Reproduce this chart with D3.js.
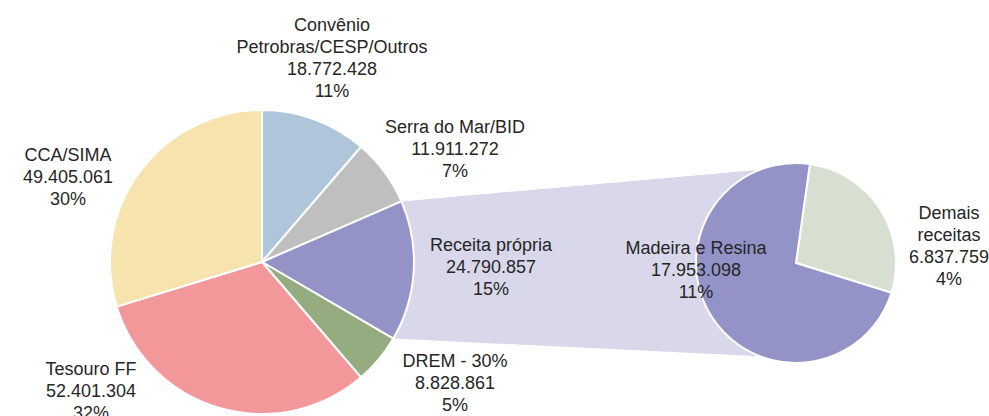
<!DOCTYPE html>
<html><head><meta charset="utf-8">
<script src="https://cdn.jsdelivr.net/npm/d3@7"></script>
<style>
html,body{margin:0;padding:0;background:#fff;}
svg{display:block;}
text{font-family:"Liberation Sans",Arial,sans-serif;font-size:18px;fill:#262626;}
</style></head>
<body>
<svg id="chart" width="989" height="416"></svg>
<script>
// ---- data ----
const mainCategories = ["Convênio\nPetrobras/CESP/Outros", "Serra do Mar/BID", "Receita própria", "DREM - 30%", "Tesouro FF", "CCA/SIMA"];
const mainValues = [18772428, 11911272, 24790857, 8828861, 52401304, 49405061];
const mainPercentLabels = ["11%", "7%", "15%", "5%", "32%", "30%"];
const subCategories = ["Demais\nreceitas", "Madeira e Resina"];
const subValues = [6837759, 17953098];
const subPercentLabels = ["4%", "11%"];

// ---- styles / layout ----
const mainColors = ["#AFC5D9", "#BFBFBF", "#9393C8", "#95AB80", "#F2989B", "#F6E3AD"];
const subColors = ["#D6DFD0", "#9393C8"];
const bandColor = "#D8D8EA";
const mainC = {x: 262, y: 262, r: 152};
const subC = {x: 796, y: 263, r: 100};
const mainLabelPos = [[332, 25], [455, 127], [491, 245], [455, 361], [91, 369], [68, 155]];
const subLabelPos = [[949, 213], [696, 248]];
const lineH = 21.8;

const fmt = v => d3.format(",")(v).replace(/,/g, ".");
const svg = d3.select("#chart");

const mainPie = d3.pie().sort(null).value(d => d).startAngle(0).endAngle(2 * Math.PI);
const mainArcs = mainPie(mainValues);
const subStart = 8 * Math.PI / 180;
const subPie = d3.pie().sort(null).value(d => d).startAngle(subStart).endAngle(subStart + 2 * Math.PI);
const subArcs = subPie(subValues);

const pt = (c, a) => [c.x + c.r * Math.sin(a), c.y - c.r * Math.cos(a)];

// connector band
const rp = mainArcs[2];
const a1 = pt(mainC, rp.startAngle), a2 = pt(mainC, rp.endAngle);
const dx = 36;
const ang = Math.asin(dx / subC.r);
const b1 = pt(subC, -ang), b2 = pt(subC, Math.PI + ang);
svg.append("path")
  .attr("d", d3.line()([a1, b1, b2, a2]) + "Z")
  .attr("fill", bandColor);

// main pie
const arcMain = d3.arc().innerRadius(0).outerRadius(mainC.r);
svg.append("g").attr("transform", `translate(${mainC.x},${mainC.y})`)
  .selectAll("path").data(mainArcs).join("path")
  .attr("d", arcMain).attr("fill", (d, i) => mainColors[i])
  .attr("stroke", "#fff").attr("stroke-width", 2).attr("stroke-linejoin", "round");

// sub pie
const arcSub = d3.arc().innerRadius(0).outerRadius(subC.r);
svg.append("g").attr("transform", `translate(${subC.x},${subC.y})`)
  .selectAll("path").data(subArcs).join("path")
  .attr("d", arcSub).attr("fill", (d, i) => subColors[i])
  .attr("stroke", "#fff").attr("stroke-width", 2).attr("stroke-linejoin", "round");

function label(pos, name, val, pct) {
  const lines = name.split("\n").concat([fmt(val), pct]);
  const t = svg.append("text").attr("text-anchor", "middle");
  lines.forEach((l, i) => {
    t.append("tspan").attr("x", pos[0]).attr("y", pos[1] + i * lineH).attr("dy", "0.35em").text(l);
  });
}
mainCategories.forEach((c, i) => label(mainLabelPos[i], c, mainValues[i], mainPercentLabels[i]));
subCategories.forEach((c, i) => label(subLabelPos[i], c, subValues[i], subPercentLabels[i]));
</script>
</body></html>
